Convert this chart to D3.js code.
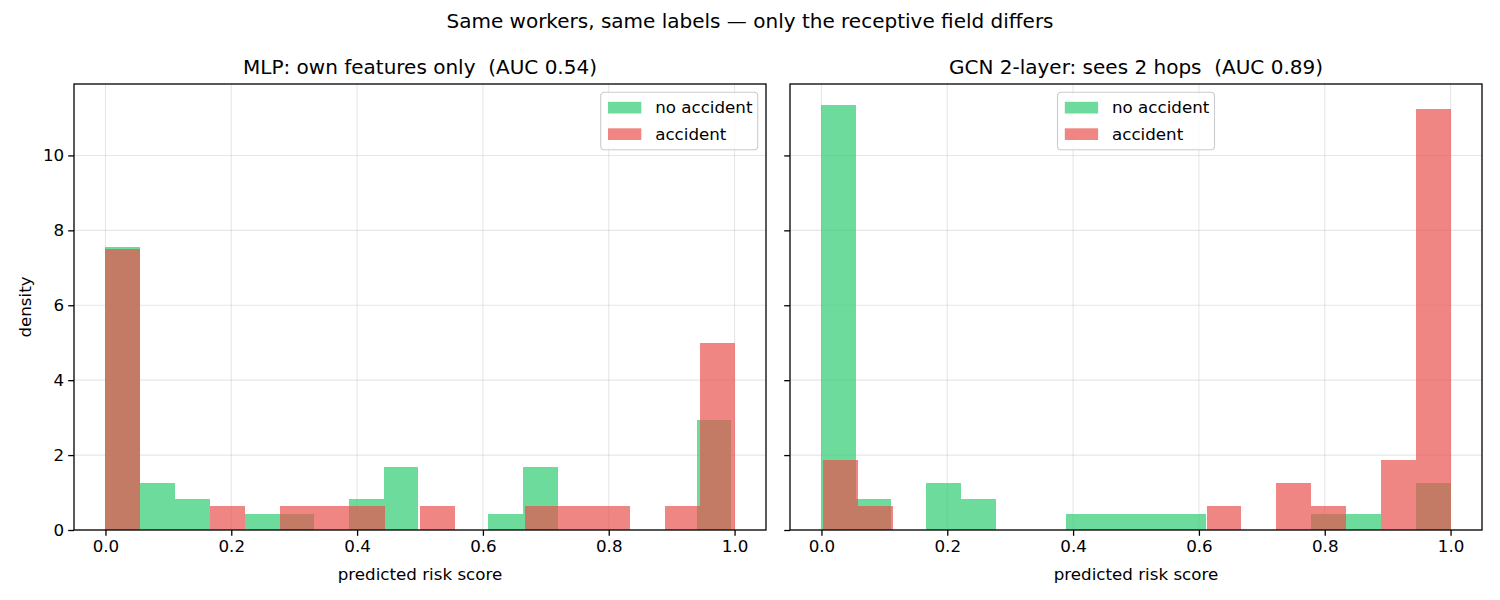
<!DOCTYPE html>
<html>
<head>
<meta charset="utf-8">
<script src="https://cdn.jsdelivr.net/npm/d3@7"></script>
<style>
  body { margin: 0; background: #fff; }
  text { font-family: "DejaVu Sans", sans-serif; fill: #000; }
</style>
</head>
<body>
<div id="plot"></div>
<script>
// histogram densities, 18 bins per series
var mlpNoAcc = [7.56, 1.26, 0.84, 0, 0.42, 0.42, 0, 0.84, 1.68, 0, 0, 0.42, 1.68, 0, 0, 0, 0, 2.94];
var mlpAcc   = [7.50, 0, 0, 0.63, 0, 0.63, 0.63, 0.63, 0, 0.63, 0, 0, 0.63, 0.63, 0.63, 0, 0.63, 4.98];
var gcnNoAcc = [11.34, 0.84, 0, 1.26, 0.84, 0, 0, 0.42, 0.42, 0.42, 0.42, 0, 0, 0, 0.42, 0.42, 0, 1.26];
var gcnAcc   = [1.88, 0.63, 0, 0, 0, 0, 0, 0, 0, 0, 0, 0.63, 0, 1.25, 0.63, 0, 1.88, 11.25];

// bin range of each series (min/max score)
var mlpNoAccRange = [0, 0.995];
var mlpAccRange   = [0, 1.0];
var gcnNoAccRange = [0, 1.0];
var gcnAccRange   = [0.003, 1.0];

var seriesNames = ["no accident", "accident"];
var seriesColors = ["#2ecc71", "#e9534e"];
var xTicks = [0.0, 0.2, 0.4, 0.6, 0.8, 1.0];
var yTicks = [0, 2, 4, 6, 8, 10];

var suptitle = "Same workers, same labels \u2014 only the receptive field differs";
var panelTitles = ["MLP: own features only  (AUC 0.54)", "GCN 2-layer: sees 2 hops  (AUC 0.89)"];

var W = 1500, H = 600;
var plotTop = 84, plotBottom = 530;
var panelX = [[74, 766], [790, 1482]];

var svg = d3.select("#plot").append("svg")
    .attr("width", W).attr("height", H);

svg.append("text")
    .attr("x", 750).attr("y", 27.5)
    .attr("text-anchor", "middle")
    .style("font-size", "20px")
    .text(suptitle);

var ymax = d3.max([mlpNoAcc, mlpAcc, gcnNoAcc, gcnAcc], function (a) { return d3.max(a); }) * 1.05;
var y = d3.scaleLinear().domain([0, ymax]).range([plotBottom, plotTop]);

function binsOf(vals, range) {
  var w = (range[1] - range[0]) / vals.length;
  return vals.map(function (v, i) {
    return { x0: range[0] + i * w, x1: range[0] + (i + 1) * w, v: v };
  });
}

var panels = [
  { series: [binsOf(mlpNoAcc, mlpNoAccRange), binsOf(mlpAcc, mlpAccRange)], legend: "right", ylabels: true },
  { series: [binsOf(gcnNoAcc, gcnNoAccRange), binsOf(gcnAcc, gcnAccRange)], legend: "center", ylabels: false }
];

panels.forEach(function (p, pi) {
  var x0 = panelX[pi][0], x1 = panelX[pi][1];
  var x = d3.scaleLinear().domain([-0.05, 1.05]).range([x0, x1]);
  var g = svg.append("g");

  // grid
  g.selectAll(".vg").data(xTicks).enter().append("line")
      .attr("x1", function (d) { return x(d); }).attr("x2", function (d) { return x(d); })
      .attr("y1", plotTop).attr("y2", plotBottom)
      .attr("stroke", "#b0b0b0").attr("stroke-opacity", 0.3).attr("stroke-width", 1.1);
  g.selectAll(".hg").data(yTicks).enter().append("line")
      .attr("x1", x0).attr("x2", x1)
      .attr("y1", function (d) { return y(d); }).attr("y2", function (d) { return y(d); })
      .attr("stroke", "#b0b0b0").attr("stroke-opacity", 0.3).attr("stroke-width", 1.1);

  // bars
  p.series.forEach(function (bins, si) {
    g.append("g").selectAll("rect").data(bins.filter(function (b) { return b.v > 0; }))
      .enter().append("rect")
        .attr("x", function (b) { return x(b.x0); })
        .attr("width", function (b) { return x(b.x1) - x(b.x0); })
        .attr("y", function (b) { return y(b.v); })
        .attr("height", function (b) { return y(0) - y(b.v); })
        .attr("fill", seriesColors[si]).attr("fill-opacity", 0.7)
        .attr("shape-rendering", "crispEdges");
  });

  // axes
  var xa = g.append("g").attr("transform", "translate(0," + plotBottom + ")")
      .call(d3.axisBottom(x).tickValues(xTicks).tickFormat(d3.format(".1f")).tickSize(5.8).tickPadding(4));
  var ya = g.append("g").attr("transform", "translate(" + x0 + ",0)")
      .call(d3.axisLeft(y).tickValues(yTicks).tickSize(5.8).tickPadding(4)
        .tickFormat(p.ylabels ? d3.format("d") : function () { return ""; }));
  [xa, ya].forEach(function (a) {
    a.select(".domain").remove();
    a.selectAll("line").attr("stroke", "#000").attr("stroke-width", 1.3);
    a.selectAll("text").style("font-size", "16.7px").attr("fill", "#000");
  });
  xa.selectAll("text").attr("dy", "0.72em");

  // spines
  g.append("rect").attr("x", x0).attr("y", plotTop).attr("width", x1 - x0).attr("height", plotBottom - plotTop)
      .attr("fill", "none").attr("stroke", "#000").attr("stroke-width", 1.3);

  g.append("text").attr("x", (x0 + x1) / 2).attr("y", 74)
      .attr("text-anchor", "middle").style("font-size", "20px")
      .style("white-space", "pre").attr("xml:space", "preserve")
      .text(panelTitles[pi]);

  g.append("text").attr("x", (x0 + x1) / 2).attr("y", 580)
      .attr("text-anchor", "middle").style("font-size", "16.7px")
      .text("predicted risk score");

  if (p.ylabels) {
    g.append("text").attr("transform", "translate(31," + ((plotTop + plotBottom) / 2) + ") rotate(-90)")
        .attr("text-anchor", "middle").style("font-size", "16.7px")
        .text("density");
  }

  // legend
  var lw = 157, lh = 57.5;
  var lx = p.legend === "right" ? x1 - 8.3 - lw : (x0 + x1) / 2 - lw / 2;
  var ly = plotTop + 8.3;
  var lg = g.append("g").attr("transform", "translate(" + lx + "," + ly + ")");
  lg.append("rect").attr("width", lw).attr("height", lh).attr("rx", 3.5)
      .attr("fill", "#fff").attr("fill-opacity", 0.8)
      .attr("stroke", "#cccccc").attr("stroke-width", 1.1);
  seriesNames.forEach(function (name, i) {
    var ry = 9.5 + i * 26.5;
    lg.append("rect").attr("x", 7.3).attr("y", ry).attr("width", 33.3).attr("height", 11.7)
        .attr("fill", seriesColors[i]).attr("fill-opacity", 0.7);
    lg.append("text").attr("x", 54.5).attr("y", ry + 11.5)
        .style("font-size", "16.7px").text(name);
  });
});
</script>
</body>
</html>
